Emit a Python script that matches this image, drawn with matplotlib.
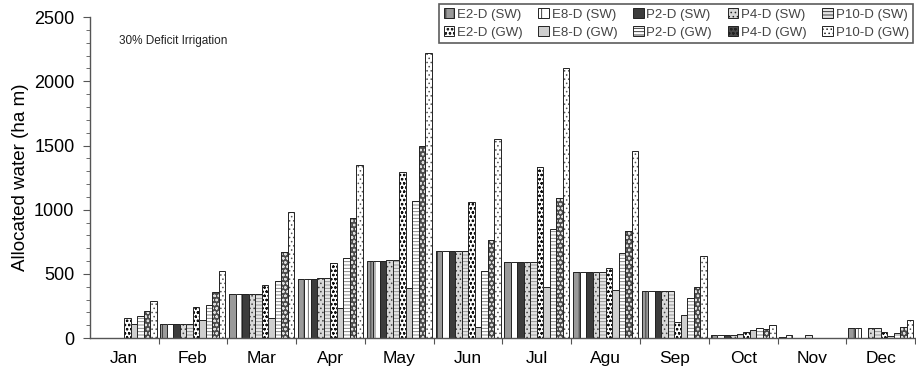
import numpy as np
import matplotlib
matplotlib.use('Agg')
import matplotlib.pyplot as plt
from matplotlib.patches import Patch

plt.rcParams['font.family'] = ['Liberation Sans', 'DejaVu Sans']
plt.rcParams['hatch.linewidth'] = 0.6

# Meses e séries
meses = ['Jan', 'Feb', 'Mar', 'Apr', 'May', 'Jun', 'Jul', 'Agu', 'Sep', 'Oct', 'Nov', 'Dec']
series = ['E2-D (SW)', 'E8-D (SW)', 'P2-D (SW)', 'P4-D (SW)', 'P10-D (SW)',
          'E2-D (GW)', 'E8-D (GW)', 'P2-D (GW)', 'P4-D (GW)', 'P10-D (GW)']

# Água superficial (SW)
e2_sw = [0, 107, 346, 463, 600, 680, 592, 518, 368, 25, 8, 80]
e8_sw = [0, 107, 346, 463, 600, 680, 592, 518, 368, 25, 27, 80]
p2_sw = [0, 107, 346, 463, 600, 680, 592, 518, 368, 25, 0, 0]
p4_sw = [0, 113, 346, 471, 607, 680, 592, 518, 368, 28, 0, 80]
p10_sw = [0, 113, 346, 471, 612, 680, 592, 518, 368, 35, 27, 80]
# Água subterrânea (GW)
e2_gw = [159, 242, 414, 586, 1297, 1057, 1331, 549, 127, 45, 0, 45]
e8_gw = [107, 138, 159, 237, 393, 88, 398, 372, 182, 60, 0, 15]
p2_gw = [172, 255, 445, 628, 1070, 523, 849, 661, 310, 80, 0, 40]
p4_gw = [211, 362, 672, 932, 1500, 763, 1091, 831, 396, 75, 0, 88]
p10_gw = [289, 523, 984, 1352, 2221, 1552, 2104, 1461, 639, 100, 0, 145]

valores = [e2_sw, e8_sw, p2_sw, p4_sw, p10_sw, e2_gw, e8_gw, p2_gw, p4_gw, p10_gw]

# (cor de fundo, hachura, cor da hachura)
estilos = [
    ('#9a9a9a', '||', '#333333'),
    ('white', '|', '#555555'),
    ('#3c3c3c', '', '#222222'),
    ('#d8d8d8', '....', '#444444'),
    ('#e6e6e6', '-----', '#888888'),
    ('white', 'oooo', '#111111'),
    ('#cfcfcf', '', '#cfcfcf'),
    ('white', '-----', '#777777'),
    ('#4a4a4a', 'oooo', '#dddddd'),
    ('white', '....', '#555555'),
]

fig = plt.figure(figsize=(9.16, 3.72), dpi=100)
ax = fig.add_axes([0.098, 0.091, 0.901, 0.863])

x = np.arange(len(meses))
w = 0.0945
handles = []
for j, (vals, (fc, hatch, hc)) in enumerate(zip(valores, estilos)):
    pos = x + (j - 4.5) * w
    ax.bar(pos, vals, width=w, color=fc, hatch=hatch, edgecolor=hc, linewidth=0)
    ax.bar(pos, vals, width=w, fill=False, edgecolor='#222222', linewidth=0.7)
    handles.append(Patch(facecolor=fc, hatch=hatch, edgecolor='#222222', linewidth=0.7))

ax.set_xlim(-0.5, 11.5)
ax.set_ylim(0, 2500)
ax.set_yticks(np.arange(0, 2501, 500))
ax.set_yticks(np.arange(0, 2501, 100), minor=True)
ax.set_xticks(x + 0.5)
ax.set_xticklabels([])
ax.set_xticks(x, minor=True)
ax.set_xticklabels(meses, minor=True)
ax.tick_params(axis='x', which='minor', length=0, pad=9, labelsize=12.5)
ax.tick_params(axis='x', which='major', length=4, color='#555555', direction='out')
ax.tick_params(axis='y', which='major', length=5, labelsize=13, color='#555555', pad=6)
ax.tick_params(axis='y', which='minor', length=3, color='#555555')
for s in ['top', 'right']:
    ax.spines[s].set_visible(False)
for s in ['left', 'bottom']:
    ax.spines[s].set_color('#555555')
    ax.spines[s].set_linewidth(1.0)

ax.set_ylabel('Allocated water (ha m)', fontsize=13.5, labelpad=4)
ax.text(0.035, 0.915, '30% Deficit Irrigation', transform=ax.transAxes,
        fontsize=8.5, color='#222222')

# Legenda em 2 linhas x 5 colunas (preenchida por coluna)
ordem = [0, 5, 1, 6, 2, 7, 3, 8, 4, 9]
leg = fig.legend([handles[k] for k in ordem], [series[k] for k in ordem],
                 ncol=5, loc='upper right', bbox_to_anchor=(0.997, 0.99),
                 bbox_transform=fig.transFigure, fontsize=9.5, frameon=True,
                 fancybox=False, edgecolor='#333333', handlelength=0.8,
                 handleheight=0.8, handletextpad=0.2, columnspacing=1.2,
                 borderpad=0.35, labelspacing=0.4, borderaxespad=0)
leg.get_frame().set_linewidth(1.2)
for t in leg.get_texts():
    t.set_color('#444444')

fig.savefig('out.png', dpi=100)
